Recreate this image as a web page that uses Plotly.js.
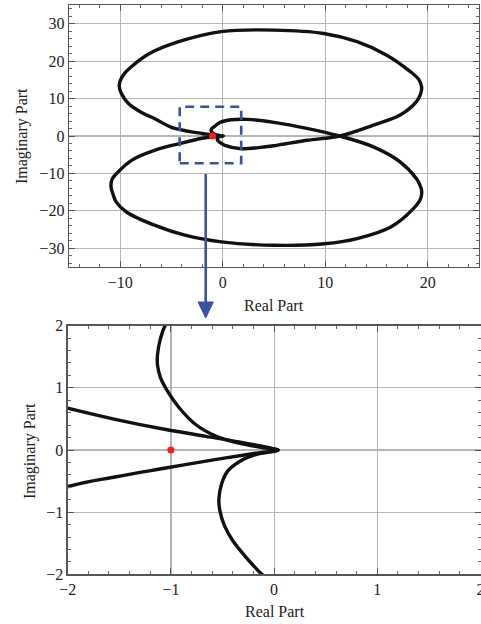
<!DOCTYPE html>
<html>
<head>
<meta charset="utf-8">
<script src="https://cdn.plot.ly/plotly-3.0.1.min.js"></script>
<style>html,body{margin:0;padding:0;background:#fff}#chart{width:481px;height:624px}</style>
</head>
<body>
<div id="chart"></div>
<script>
// Branch A: tip -> upper-left line -> upper lobe -> crossing -> inner lower branch -> lower arc -> tip
const branchA_x = [0.04, -0.06, -0.34, -0.66, -1.05, -1.53, -2.02, -3.4, -5.0, -6.4, -8.05, -9.2, -9.9, -10.1, -9.7, -8.7, -7.1, -4.3, -0.13, 5.0, 9.86, 13.1, 16.0, 18.3, 19.1, 19.4, 19.3, 18.9, 17.3, 14.7, 11.4, 8.2, 5.0, 3.5, 1.8, 0.2, -0.12, -0.28, -0.40, -0.48, -0.525, -0.535, -0.51, -0.45, -0.33, -0.17, 0.04];
const branchA_y = [0.0, 0.04, 0.13, 0.22, 0.33, 0.49, 0.68, 1.3, 2.3, 4.3, 6.5, 8.7, 11.4, 13.6, 16.3, 19.0, 22.1, 25.2, 27.9, 28.3, 27.4, 25.2, 21.6, 17.2, 15.2, 13.2, 11.2, 9.2, 5.6, 2.9, 0.0, -1.15, -2.6, -3.1, -3.4, -2.5, -2.0, -1.71, -1.46, -1.22, -0.98, -0.79, -0.55, -0.34, -0.18, -0.07, 0.0];
// Branch B: tip -> lower-left line -> lower lobe -> crossing -> inner upper branch -> upper arc -> tip
const branchB_x = [0.04, -0.21, -0.56, -1.05, -1.53, -2.02, -4.0, -6.6, -8.9, -10.2, -10.8, -10.9, -10.7, -10.4, -9.4, -6.6, -3.7, -0.13, 5.0, 9.9, 13.1, 16.4, 18.6, 19.3, 19.4, 19.2, 18.9, 17.3, 14.7, 11.4, 8.2, 5.0, 2.46, 0.84, -0.3, -0.8, -1.05, -1.10, -1.13, -1.13, -1.10, -1.03, -0.92, -0.76, -0.56, -0.34, -0.08, 0.04];
const branchB_y = [0.0, -0.06, -0.15, -0.29, -0.43, -0.60, -1.9, -3.8, -6.5, -9.6, -11.6, -13.6, -15.6, -17.6, -20.3, -23.9, -26.5, -28.3, -29.2, -28.8, -27.4, -24.3, -19.4, -16.8, -14.5, -12.9, -11.4, -6.9, -2.9, 0.0, 2.05, 3.65, 4.45, 4.35, 3.6, 2.55, 2.02, 1.80, 1.53, 1.37, 1.16, 0.94, 0.68, 0.41, 0.22, 0.11, 0.03, 0.0];
// Critical point
const critical_x = [-1];
const critical_y = [0];

const topXTicks = [-10, 0, 10, 20];
const topYTicks = [-30, -20, -10, 0, 10, 20, 30];
const botXTicks = [-2, -1, 0, 1, 2];
const botYTicks = [-2, -1, 0, 1, 2];

const W = 481, H = 624;
const px = v => v / W;
const py = v => 1 - v / H;

const FONT = 'Liberation Serif, Times New Roman, serif';

function curve(xs, ys, xa, ya) {
  return {x: xs.slice(), y: ys.slice(), xaxis: xa, yaxis: ya, type: 'scatter', mode: 'lines',
          line: {color: '#111', width: 3.4, shape: 'spline', smoothing: 1.0, simplify: false}, hoverinfo: 'skip'};
}
function dot(xa, ya) {
  return {x: critical_x, y: critical_y, xaxis: xa, yaxis: ya, type: 'scatter', mode: 'markers',
          marker: {color: '#ff1a1a', size: 7}, hoverinfo: 'skip'};
}

const data = [
  curve(branchA_x, branchA_y, 'x', 'y'),
  curve(branchB_x, branchB_y, 'x', 'y'),
  dot('x', 'y'),
  curve(branchA_x, branchA_y, 'x2', 'y2'),
  curve(branchB_x, branchB_y, 'x2', 'y2'),
  dot('x2', 'y2')
];

function axisBase(extra) {
  return Object.assign({
    showline: true, linecolor: '#555', linewidth: 1.3, mirror: 'ticks',
    ticks: 'inside', ticklen: 6, tickwidth: 1, tickcolor: '#555',
    showgrid: true, gridcolor: '#b5b5b5', gridwidth: 1.2,
    zeroline: false, fixedrange: true,
    tickfont: {family: FONT, size: 16, color: '#222'},
    automargin: false
  }, extra);
}

const layout = {
  width: W, height: H,
  margin: {l: 0, r: 0, t: 0, b: 0},
  paper_bgcolor: '#fff', plot_bgcolor: '#fff',
  showlegend: false,
  xaxis: axisBase({domain: [px(69), px(479)], range: [-15, 25], tickmode: 'array', tickvals: topXTicks, anchor: 'y',
    minor: {dtick: 2, ticks: 'inside', ticklen: 3, tickcolor: '#666', showgrid: false}}),
  yaxis: axisBase({domain: [py(267), py(5)], range: [-35, 35], tickmode: 'array', tickvals: topYTicks, anchor: 'x',
    minor: {dtick: 2, ticks: 'inside', ticklen: 3, tickcolor: '#666', showgrid: false}}),
  xaxis2: axisBase({domain: [px(67.7), px(480.5)], range: [-2, 2], tickmode: 'array', tickvals: botXTicks, anchor: 'y2',
    ticklabeloverflow: 'allow',
    minor: {dtick: 0.2, ticks: 'inside', ticklen: 3, tickcolor: '#666', showgrid: false}}),
  yaxis2: axisBase({domain: [py(574.3), py(325.7)], range: [-2, 2], tickmode: 'array', tickvals: botYTicks, anchor: 'x2',
    minor: {dtick: 0.2, ticks: 'inside', ticklen: 3, tickcolor: '#666', showgrid: false}}),
  shapes: [
    {type: 'rect', xref: 'x', yref: 'y', x0: -4.2, x1: 1.8, y0: -7.3, y1: 7.8,
     line: {color: '#3a52a6', width: 2.6, dash: '9px,6px'}, fillcolor: 'rgba(0,0,0,0)', layer: 'above'},
    {type: 'line', xref: 'paper', yref: 'paper', x0: px(205.7), x1: px(205.7), y0: py(174), y1: py(304),
     line: {color: '#3a52a6', width: 2.6}},
    {type: 'path', xref: 'paper', yref: 'paper',
     path: 'M ' + px(198) + ' ' + py(302) + ' L ' + px(213.4) + ' ' + py(302) + ' L ' + px(205.7) + ' ' + py(318) + ' Z',
     fillcolor: '#3a52a6', line: {color: '#3a52a6', width: 1}}
  ],
  annotations: [
    {text: 'Real Part', xref: 'paper', yref: 'paper', x: px(274), y: py(305), showarrow: false,
     font: {family: FONT, size: 16, color: '#222'}, xanchor: 'center', yanchor: 'middle'},
    {text: 'Imaginary Part', xref: 'paper', yref: 'paper', x: px(22), y: py(136), showarrow: false, textangle: -90,
     font: {family: FONT, size: 16, color: '#222'}, xanchor: 'center', yanchor: 'middle'},
    {text: 'Real Part', xref: 'paper', yref: 'paper', x: px(274.5), y: py(611), showarrow: false,
     font: {family: FONT, size: 16, color: '#222'}, xanchor: 'center', yanchor: 'middle'},
    {text: 'Imaginary Part', xref: 'paper', yref: 'paper', x: px(30), y: py(451), showarrow: false, textangle: -90,
     font: {family: FONT, size: 16, color: '#222'}, xanchor: 'center', yanchor: 'middle'}
  ]
};

Plotly.newPlot('chart', data, layout, {staticPlot: true, displayModeBar: false});
</script>
</body>
</html>
